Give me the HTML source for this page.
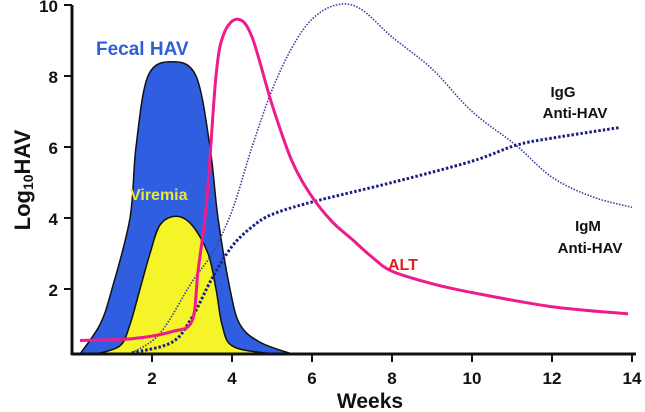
<!DOCTYPE html>
<html><head><meta charset="utf-8"><style>
body{margin:0;background:#fff;}
svg{display:block;font-family:"Liberation Sans",sans-serif;font-weight:bold;}
</style></head><body>
<svg id="chart" width="645" height="412">
<g id="marks"></g>
<g id="axes"></g>
<text x="96" y="55" font-size="19" fill="#2f5fd8">Fecal HAV</text>
<text x="130" y="200" font-size="16" fill="#e8e830">Viremia</text>
<text x="388" y="270" font-size="16" fill="#e02020">ALT</text>
<text x="563" y="97" font-size="15" fill="#111" text-anchor="middle">IgG</text>
<text x="575" y="118" font-size="15" fill="#111" text-anchor="middle">Anti-HAV</text>
<text x="588" y="231" font-size="15" fill="#111" text-anchor="middle">IgM</text>
<text x="590" y="253" font-size="15" fill="#111" text-anchor="middle">Anti-HAV</text>
<text x="370" y="408" font-size="21" fill="#111" text-anchor="middle">Weeks</text>
<text transform="translate(30,180) rotate(-90)" font-size="22" fill="#111" text-anchor="middle">Log<tspan font-size="14" dy="3">10</tspan><tspan dy="-3">HAV</tspan></text>
</svg>
<script>
const xTicks=[2,4,6,8,10,12,14];
const yTicks=[2,4,6,8,10];
const fecalX=[0.2,0.7,1.0,1.45,1.6,1.9,2.5,3.1,3.45,3.65,3.95,4.2,4.7,5.5];
const fecalY=[0.17,1,2,4,6,8,8.4,8,6,4,2,1,0.5,0.17];
const viremiaX=[0.6,1.2,1.45,1.7,1.95,2.2,2.6,3.0,3.4,3.6,3.75,4.0,4.8,5.4];
const viremiaY=[0.17,0.4,1,2,3,3.8,4.05,3.8,3,2,1,0.4,0.2,0.17];
const altX=[0.2,1.5,2.5,3.0,3.15,3.37,3.6,3.8,4.15,4.5,5,5.5,6,6.5,7,7.5,8,9,10,12,13.9];
const altY=[0.55,0.6,0.8,1.1,2.5,4.5,8,9.2,9.6,9.1,7.2,5.6,4.6,3.9,3.4,2.9,2.5,2.15,1.9,1.5,1.3];
const igmX=[1.5,2.2,3,3.5,4,4.5,5,5.5,6,6.6,7.2,8,9,10,11.1,12,13,14];
const igmY=[0.2,0.75,2.2,3.0,4.2,6.0,7.6,8.8,9.6,10,9.9,9.1,8.2,7.0,6.05,5.15,4.6,4.3];
const iggX=[1.5,2.5,3,3.5,4,4.5,5,6,8,10,11.1,12,13.7];
const iggY=[0.2,0.5,1.2,2.3,3.2,3.75,4.1,4.45,5,5.6,6.05,6.25,6.55];
const X=w=>72+40*w, Y=v=>360-35.5*v;
const NS="http://www.w3.org/2000/svg";
const marks=document.getElementById('marks'), axes=document.getElementById('axes');
function smooth(xs,ys,close){
  const p=xs.map((x,i)=>[X(x),Y(ys[i])]);
  let d=close?`M${p[0][0]},354 L${p[0][0]},${p[0][1]}`:`M${p[0][0]},${p[0][1]}`;
  for(let i=0;i<p.length-1;i++){
    const p0=p[Math.max(i-1,0)],p1=p[i],p2=p[i+1],p3=p[Math.min(i+2,p.length-1)];
    d+=` C${p1[0]+(p2[0]-p0[0])/6},${p1[1]+(p2[1]-p0[1])/6} ${p2[0]-(p3[0]-p1[0])/6},${p2[1]-(p3[1]-p1[1])/6} ${p2[0]},${p2[1]}`;
  }
  if(close)d+=` L${p[p.length-1][0]},354 Z`;
  return d;
}
function path(d,attrs,name){
  const e=document.createElementNS(NS,'path');
  e.setAttribute('d',d);
  for(const k in attrs)e.setAttribute(k,attrs[k]);
  
  
  marks.appendChild(e);
}
path(smooth(fecalX,fecalY,true),{fill:'#2f5fe0',stroke:'#111','stroke-width':1.5},'fecal-hav-area');
path(smooth(viremiaX,viremiaY,true),{fill:'#f4f428',stroke:'#111','stroke-width':1.5},'viremia-area');
path(smooth(igmX,igmY,false),{fill:'none',stroke:'#3a3f9a','stroke-width':1.6,'stroke-dasharray':'1.5 1.5'},'igm-line');
path(smooth(iggX,iggY,false),{fill:'none',stroke:'#1c2080','stroke-width':3,'stroke-dasharray':'2.5 2'},'igg-line');
path(smooth(altX,altY,false),{fill:'none',stroke:'#ee1b8a','stroke-width':3},'alt-line');
function line(x1,y1,x2,y2,name,w){
  const e=document.createElementNS(NS,'line');
  e.setAttribute('x1',x1);e.setAttribute('y1',y1);e.setAttribute('x2',x2);e.setAttribute('y2',y2);
  e.setAttribute('stroke','#111');e.setAttribute('stroke-width',w||3);
  
  
  axes.appendChild(e);
}
function txt(x,y,s,anchor,name){
  const e=document.createElementNS(NS,'text');
  e.setAttribute('x',x);e.setAttribute('y',y);e.setAttribute('font-size',17);
  e.setAttribute('text-anchor',anchor);e.setAttribute('fill','#111');
  e.textContent=s;
  
  
  axes.appendChild(e);
}
line(72,5,72,355,'y-axis');
line(71,354,636,354,'x-axis');
xTicks.forEach(t=>{line(X(t),354,X(t),362,'x-tick',2);txt(X(t),384,t,'middle','x-tick-label');});
yTicks.forEach(t=>{line(64,Y(t),72,Y(t),'y-tick',2);txt(58,Y(t)+7,t,'end','y-tick-label');});
</script>
</body></html>
